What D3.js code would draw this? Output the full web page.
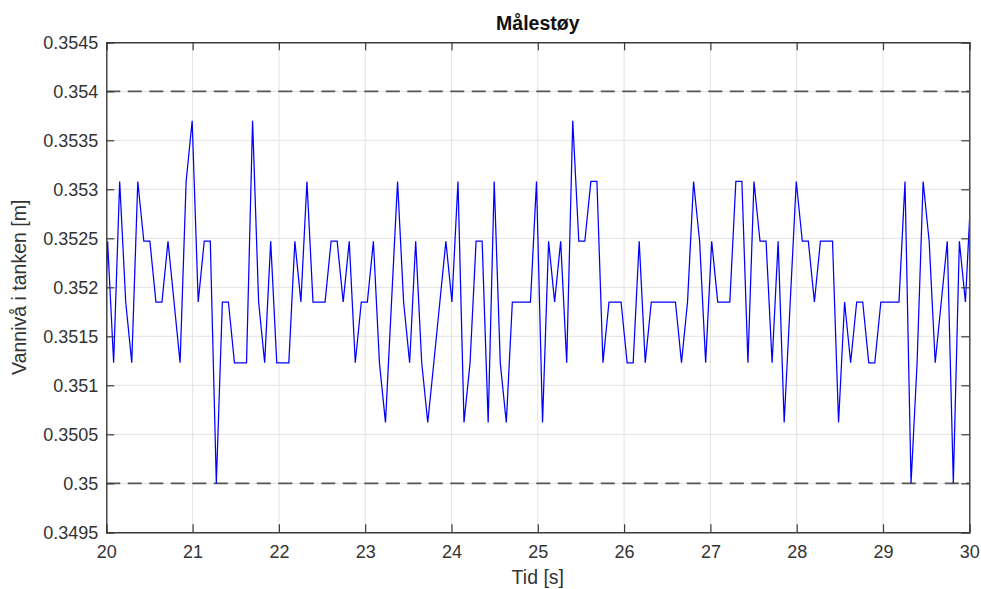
<!DOCTYPE html>
<html>
<head>
<meta charset="utf-8">
<script src="https://cdn.jsdelivr.net/npm/d3@7"></script>
<style>
  body { margin: 0; background: #fff; }
  text { font-family: "Liberation Sans", Arial, Helvetica, sans-serif; }
</style>
</head>
<body>
<svg id="chart" width="981" height="589"></svg>
<script>
// Axis ticks
const xTicks = [20, 21, 22, 23, 24, 25, 26, 27, 28, 29, 30];
const yTicks = [0.3495, 0.35, 0.3505, 0.351, 0.3515, 0.352, 0.3525, 0.353, 0.3535, 0.354, 0.3545];

// Upper and lower reference levels (dashed)
const limitLevels = [0.354, 0.35];

// Measured water level [m], one sample every samplePeriod seconds
const sampleStart = 19.945;
const samplePeriod = 0.07;
const waterLevel = [
  0.35062, 0.35247, 0.35123, 0.35308, 0.35185, 0.35123, 0.35308, 0.35247, 0.35247, 0.35185,
  0.35185, 0.35247, 0.35185, 0.35123, 0.35308, 0.3537,  0.35185, 0.35247, 0.35247, 0.35,
  0.35185, 0.35185, 0.35123, 0.35123, 0.35123, 0.3537,  0.35185, 0.35123, 0.35247, 0.35123,
  0.35123, 0.35123, 0.35247, 0.35185, 0.35308, 0.35185, 0.35185, 0.35185, 0.35247, 0.35247,
  0.35185, 0.35247, 0.35123, 0.35185, 0.35185, 0.35247, 0.35123, 0.35062, 0.35185, 0.35308,
  0.35185, 0.35123, 0.35247, 0.35123, 0.35062, 0.35123, 0.35185, 0.35247, 0.35185, 0.35308,
  0.35062, 0.35123, 0.35247, 0.35247, 0.35062, 0.35308, 0.35123, 0.35062, 0.35185, 0.35185,
  0.35185, 0.35185, 0.35308, 0.35062, 0.35247, 0.35185, 0.35247, 0.35123, 0.3537,  0.35247,
  0.35247, 0.35308, 0.35308, 0.35123, 0.35185, 0.35185, 0.35185, 0.35123, 0.35123, 0.35247,
  0.35123, 0.35185, 0.35185, 0.35185, 0.35185, 0.35185, 0.35123, 0.35185, 0.35308, 0.35247,
  0.35123, 0.35247, 0.35185, 0.35185, 0.35185, 0.35308, 0.35308, 0.35123, 0.35308, 0.35247,
  0.35247, 0.35123, 0.35247, 0.35062, 0.35185, 0.35308, 0.35247, 0.35247, 0.35185, 0.35247,
  0.35247, 0.35247, 0.35062, 0.35185, 0.35123, 0.35185, 0.35185, 0.35123, 0.35123, 0.35185,
  0.35185, 0.35185, 0.35185, 0.35308, 0.35,    0.35123, 0.35308, 0.35247, 0.35123, 0.35185,
  0.35247, 0.35,    0.35247, 0.35185, 0.35308
];

const W = 981, H = 589;
const plot = { left: 106.3, right: 969.3, top: 42.3, bottom: 532.3 };

const svg = d3.select("#chart");

const x = d3.scaleLinear().domain([20, 30]).range([plot.left, plot.right]);
const y = d3.scaleLinear().domain([0.3495, 0.3545]).range([plot.bottom, plot.top]);

const samples = waterLevel.map((v, i) => ({ t: sampleStart + i * samplePeriod, v }));

// Plot area clip
svg.append("defs").append("clipPath").attr("id", "plotClip")
  .append("rect")
  .attr("x", plot.left).attr("y", plot.top)
  .attr("width", plot.right - plot.left).attr("height", plot.bottom - plot.top);

// Grid
const grid = svg.append("g").attr("stroke", "#e3e3e3").attr("stroke-width", 1);
grid.selectAll("line.gx").data(xTicks.slice(1, -1)).join("line")
  .attr("x1", d => x(d)).attr("x2", d => x(d))
  .attr("y1", plot.top).attr("y2", plot.bottom);
grid.selectAll("line.gy").data(yTicks.slice(1, -1)).join("line")
  .attr("y1", d => y(d)).attr("y2", d => y(d))
  .attr("x1", plot.left).attr("x2", plot.right);

// Reference levels
svg.append("g").attr("clip-path", "url(#plotClip)")
  .selectAll("line").data(limitLevels).join("line")
  .attr("x1", plot.left).attr("x2", plot.right)
  .attr("y1", d => y(d)).attr("y2", d => y(d))
  .attr("stroke", "#555").attr("stroke-width", 1.8)
  .attr("stroke-dasharray", "14,7.5");

// Signal
svg.append("path")
  .datum(samples)
  .attr("clip-path", "url(#plotClip)")
  .attr("fill", "none")
  .attr("stroke", "#0000ff")
  .attr("stroke-width", 1.25)
  .attr("stroke-linejoin", "miter")
  .attr("d", d3.line().x(d => x(d.t)).y(d => y(d.v)));

// Axes (ticks pointing inward on all four sides)
const axisColor = "#3a3a3a";
const tickLen = 8;
const fmt = v => String(v);

const gx = svg.append("g").attr("transform", `translate(0,${plot.bottom})`)
  .call(d3.axisBottom(x).tickValues(xTicks).tickSize(-tickLen).tickPadding(10).tickFormat(fmt));
const gy = svg.append("g").attr("transform", `translate(${plot.left},0)`)
  .call(d3.axisLeft(y).tickValues(yTicks).tickSize(-tickLen).tickPadding(8).tickFormat(fmt));
const gxt = svg.append("g").attr("transform", `translate(0,${plot.top})`)
  .call(d3.axisTop(x).tickValues(xTicks).tickSize(-tickLen).tickFormat(""));
const gyr = svg.append("g").attr("transform", `translate(${plot.right},0)`)
  .call(d3.axisRight(y).tickValues(yTicks).tickSize(-tickLen).tickFormat(""));

[gx, gy, gxt, gyr].forEach(g => {
  g.select(".domain").attr("stroke", axisColor).attr("stroke-width", 1.4);
  g.selectAll(".tick line").attr("stroke", axisColor).attr("stroke-width", 1.2);
  g.selectAll(".tick text").attr("fill", "#333").attr("font-size", 18)
    .attr("font-family", "'Liberation Sans', Arial, sans-serif");
});
gx.selectAll(".tick text").attr("dy", "0.85em");

// Title and axis labels
svg.append("text")
  .attr("x", (plot.left + plot.right) / 2).attr("y", 30)
  .attr("text-anchor", "middle").attr("font-size", 19.5).attr("font-weight", "bold")
  .attr("fill", "#111")
  .text("Målestøy");

svg.append("text")
  .attr("x", (plot.left + plot.right) / 2).attr("y", 584)
  .attr("text-anchor", "middle").attr("font-size", 19.5).attr("fill", "#333")
  .text("Tid [s]");

svg.append("text")
  .attr("transform", `translate(26,${(plot.top + plot.bottom) / 2}) rotate(-90)`)
  .attr("text-anchor", "middle").attr("font-size", 19.5).attr("fill", "#333")
  .text("Vannivå i tanken [m]");
</script>
</body>
</html>
